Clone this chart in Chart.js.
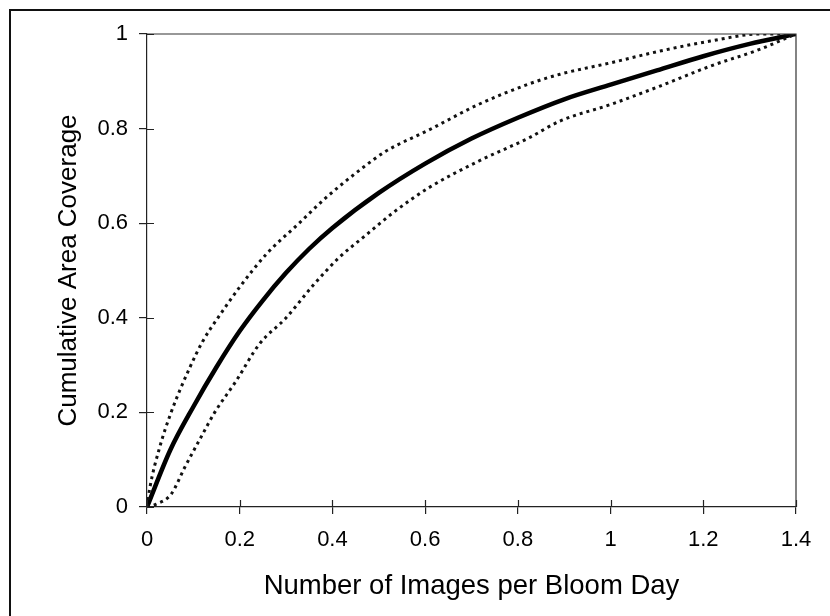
<!DOCTYPE html>
<html>
<head>
<meta charset="utf-8">
<script src="https://cdn.jsdelivr.net/npm/chart.js@4.4.0/dist/chart.umd.min.js"></script>
<style>
  html, body { margin: 0; padding: 0; background: #ffffff; }
  #wrap { position: relative; width: 830px; height: 616px; }
</style>
</head>
<body>
<div id="wrap"><canvas id="c" width="830" height="616"></canvas></div>
<script>
// ---- data ----
const meanX  = [0, 0.05, 0.1, 0.15, 0.2, 0.25, 0.3, 0.35, 0.4, 0.5, 0.6, 0.7, 0.8, 0.9, 1.0, 1.1, 1.2, 1.3, 1.4];
const meanY  = [0, 0.12, 0.212, 0.296, 0.372, 0.437, 0.495, 0.546, 0.59, 0.664, 0.726, 0.779, 0.823, 0.862, 0.893, 0.923, 0.953, 0.979, 1.0];

const upperX = [0, 0.006, 0.027, 0.052, 0.092, 0.12, 0.153, 0.2, 0.257, 0.328, 0.385, 0.465, 0.515, 0.608, 0.715, 0.823, 0.891, 1.0, 1.107, 1.215, 1.323, 1.4];
const upperY = [0, 0.04, 0.125, 0.2, 0.294, 0.35, 0.4, 0.465, 0.534, 0.6, 0.653, 0.717, 0.752, 0.797, 0.851, 0.894, 0.915, 0.939, 0.964, 0.985, 1.0, 1.0];

const lowerX = [0, 0.02, 0.052, 0.081, 0.12, 0.146, 0.192, 0.242, 0.3, 0.357, 0.414, 0.465, 0.536, 0.608, 0.715, 0.823, 0.891, 1.0, 1.107, 1.215, 1.323, 1.39, 1.4];
const lowerY = [0, 0.006, 0.027, 0.083, 0.154, 0.2, 0.266, 0.344, 0.4, 0.467, 0.527, 0.569, 0.626, 0.675, 0.731, 0.78, 0.816, 0.851, 0.89, 0.932, 0.968, 0.996, 1.0];

const xTicks = [0, 0.2, 0.4, 0.6, 0.8, 1, 1.2, 1.4];
const yTicks = [0, 0.2, 0.4, 0.6, 0.8, 1];
const xTitle = 'Number of Images per Bloom Day';
const yTitle = 'Cumulative Area Coverage';

const pts = (xs, ys) => xs.map((x, i) => ({ x: x, y: ys[i] }));

const FONT = "'Liberation Sans', Arial, Helvetica, sans-serif";

// frame, plot box and inward tick halves
const decor = {
  id: 'decor',
  beforeDraw(chart) {
    const ctx = chart.ctx;
    ctx.save();
    ctx.fillStyle = '#fff';
    ctx.fillRect(0, 0, chart.width, chart.height);
    ctx.strokeStyle = '#111';
    ctx.lineWidth = 2;
    ctx.beginPath();
    ctx.moveTo(10, chart.height);
    ctx.lineTo(10, 10);
    ctx.lineTo(chart.width, 10);
    ctx.stroke();
    ctx.restore();
  },
  afterDatasetsDraw(chart) {
    const ctx = chart.ctx;
    const a = chart.chartArea;
    const xs = chart.scales.x, ys = chart.scales.y;
    ctx.save();
    ctx.strokeStyle = '#333';
    ctx.lineWidth = 1.2;
    ctx.beginPath();
    ctx.moveTo(a.left, a.top);
    ctx.lineTo(a.right, a.top);
    ctx.lineTo(a.right, a.bottom);
    ctx.stroke();
    ctx.strokeStyle = '#222';
    ctx.beginPath();
    xTicks.forEach(v => {
      const p = Math.round(xs.getPixelForValue(v)) + 0.5;
      ctx.moveTo(p, a.bottom);
      ctx.lineTo(p, a.bottom - 7);
    });
    yTicks.forEach(v => {
      const p = Math.round(ys.getPixelForValue(v)) + 0.5;
      ctx.moveTo(a.left, p);
      ctx.lineTo(a.left + 7, p);
    });
    ctx.stroke();
    ctx.restore();
  }
};

new Chart(document.getElementById('c'), {
  type: 'line',
  data: {
    datasets: [
      {
        label: 'upper',
        data: pts(upperX, upperY),
        borderColor: '#111',
        borderWidth: 3,
        borderDash: [3, 4],
        borderCapStyle: 'butt',
        pointRadius: 0,
        cubicInterpolationMode: 'monotone',
        fill: false
      },
      {
        label: 'lower',
        data: pts(lowerX, lowerY),
        borderColor: '#111',
        borderWidth: 3,
        borderDash: [3, 4],
        borderCapStyle: 'butt',
        pointRadius: 0,
        cubicInterpolationMode: 'monotone',
        fill: false
      },
      {
        label: 'mean',
        data: pts(meanX, meanY),
        borderColor: '#000',
        borderWidth: 4.5,
        pointRadius: 0,
        cubicInterpolationMode: 'monotone',
        fill: false
      }
    ]
  },
  options: {
    responsive: false,
    animation: false,
    devicePixelRatio: 1,
    layout: { padding: { left: 0, top: 34, right: 34, bottom: 0 } },
    plugins: { legend: { display: false }, tooltip: { enabled: false } },
    scales: {
      x: {
        type: 'linear',
        min: 0, max: 1.4,
        afterFit(s) { s.height = 109; },
        afterBuildTicks(s) { s.ticks = xTicks.map(v => ({ value: v })); },
        grid: { display: true, drawOnChartArea: false, drawTicks: true, tickLength: 7, color: '#222', lineWidth: 1.2 },
        border: { display: true, color: '#222', width: 1.2 },
        ticks: {
          color: '#000',
          font: { family: FONT, size: 22 },
          padding: 13,
          maxRotation: 0,
          callback: v => String(v)
        },
        title: {
          display: true,
          text: xTitle,
          color: '#000',
          font: { family: FONT, size: 27.5 },
          padding: { top: 0, bottom: 13 }
        }
      },
      y: {
        type: 'linear',
        min: 0, max: 1,
        afterFit(s) { s.width = 147; },
        afterBuildTicks(s) { s.ticks = yTicks.map(v => ({ value: v })); },
        grid: { display: true, drawOnChartArea: false, drawTicks: true, tickLength: 8, color: '#222', lineWidth: 1.2 },
        border: { display: true, color: '#222', width: 1.2 },
        ticks: {
          color: '#000',
          font: { family: FONT, size: 22 },
          padding: 11,
          callback: v => String(v)
        },
        title: {
          display: true,
          text: yTitle,
          color: '#000',
          font: { family: FONT, size: 26 },
          padding: { top: 53, bottom: 0 }
        }
      }
    }
  },
  plugins: [decor]
});
</script>
</body>
</html>
